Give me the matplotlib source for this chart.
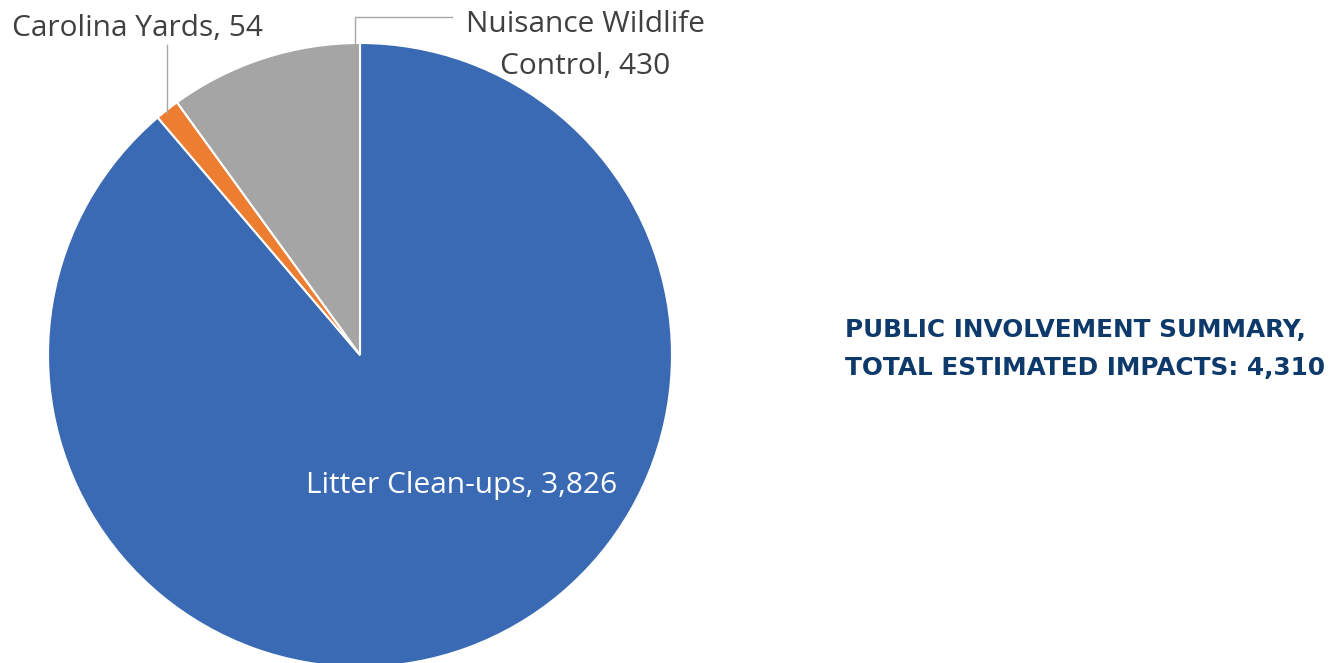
import matplotlib
matplotlib.use("Agg")
import matplotlib.pyplot as plt

categories = ["Litter Clean-ups", "Carolina Yards", "Nuisance Wildlife\nControl"]
values = [3826, 54, 430]
colors = ["#3A6AB4", "#ED7D31", "#A5A5A5"]
title_lines = ["PUBLIC INVOLVEMENT SUMMARY,", "TOTAL ESTIMATED IMPACTS: 4,310"]

W, H = 1343, 663
fig = plt.figure(figsize=(W / 100, H / 100), dpi=100)
ax = fig.add_axes([0, 0, 1, 1])

cx, cy, r = 360, H - 355, 312
wedges, _ = ax.pie(values, colors=colors, startangle=90, counterclock=False,
                   center=(cx, cy), radius=r,
                   wedgeprops=dict(edgecolor="white", linewidth=1.5))
ax.set_xlim(0, W)
ax.set_ylim(0, H)
ax.set_aspect("equal")
ax.axis("off")

lab_font = "Open Sans"
fs = 21.5
# Litter label
ax.text(462, H - 485, f"{categories[0]}, {values[0]:,}", color="white",
        fontsize=fs, family=lab_font, ha="center", va="center")
# Carolina Yards label
ax.text(137, H - 28, f"{categories[1]}, {values[1]:,}", color="#404040",
        fontsize=fs, family=lab_font, ha="center", va="center")
ax.plot([167, 167], [H - 45, H - 113], color="#A6A6A6", lw=1)
# Nuisance label
l1, l2 = categories[2].split("\n")
ax.text(585, H - 24, l1, color="#404040",
        fontsize=fs, family=lab_font, ha="center", va="center")
ax.text(585, H - 66, f"{l2}, {values[2]:,}", color="#404040",
        fontsize=fs, family=lab_font, ha="center", va="center")
ax.plot([355, 355, 452], [H - 43, H - 17, H - 17], color="#A6A6A6", lw=1)

# Title
ax.text(845, H - 330, title_lines[0], color="#0E3A6B", fontsize=17.8,
        fontweight="bold", family="DejaVu Sans", ha="left", va="center")
ax.text(845, H - 368, title_lines[1], color="#0E3A6B", fontsize=17.8,
        fontweight="bold", family="DejaVu Sans", ha="left", va="center")

fig.savefig("out.png", dpi=100)
